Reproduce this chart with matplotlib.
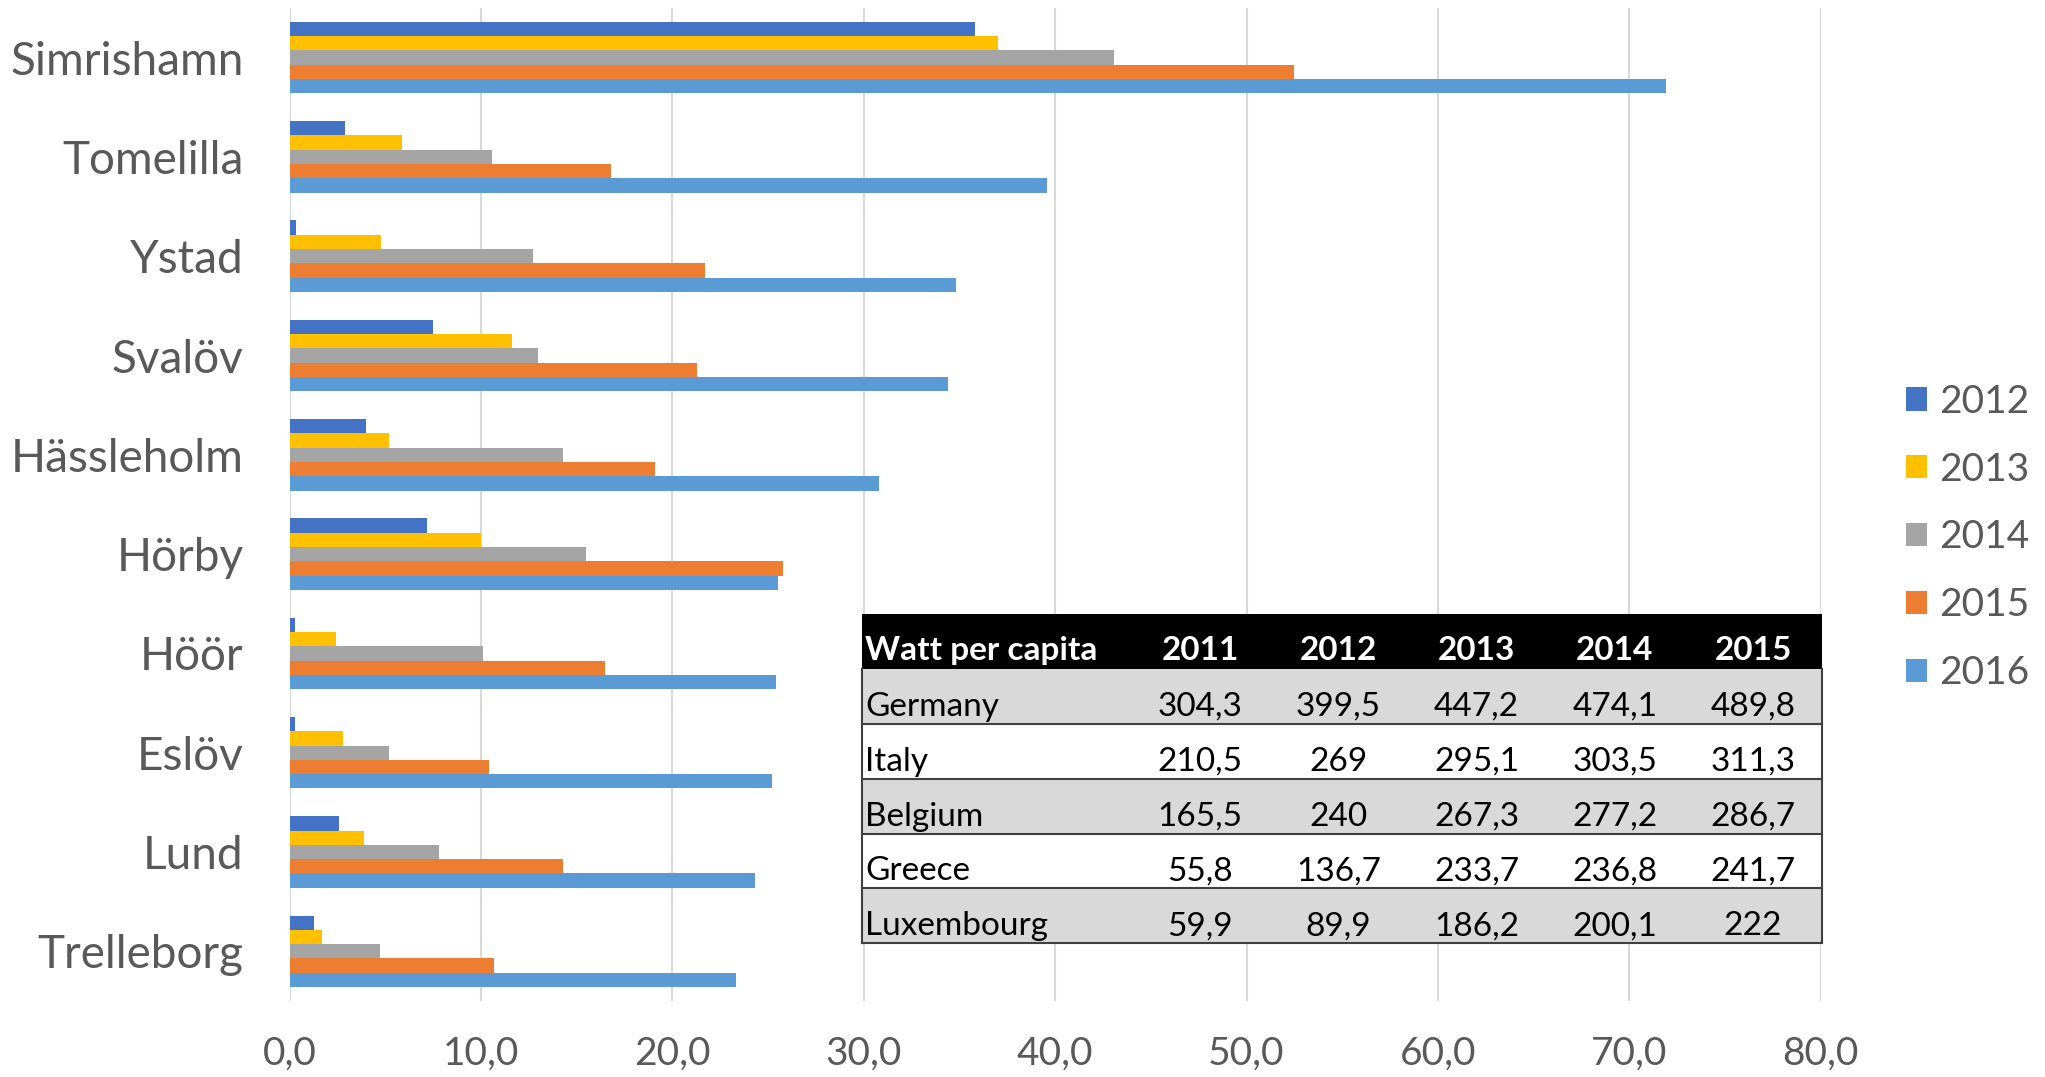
import matplotlib.pyplot as plt
import numpy as np
from matplotlib.patches import Rectangle
from matplotlib.ticker import FuncFormatter

plt.rcParams['font.family'] = ['Lato', 'DejaVu Sans']

towns = ["Simrishamn", "Tomelilla", "Ystad", "Svalöv", "Hässleholm",
         "Hörby", "Höör", "Eslöv", "Lund", "Trelleborg"]
years = ["2012", "2013", "2014", "2015", "2016"]
v2012 = [35.8, 2.9, 0.35, 7.5, 4.0, 7.2, 0.3, 0.3, 2.6, 1.3]
v2013 = [37.0, 5.9, 4.8, 11.6, 5.2, 10.0, 2.4, 2.8, 3.9, 1.7]
v2014 = [43.1, 10.6, 12.7, 13.0, 14.3, 15.5, 10.1, 5.2, 7.8, 4.7]
v2015 = [52.5, 16.8, 21.7, 21.3, 19.1, 25.8, 16.5, 10.4, 14.3, 10.7]
v2016 = [71.9, 39.6, 34.8, 34.4, 30.8, 25.5, 25.4, 25.2, 24.3, 23.3]
series = [v2012, v2013, v2014, v2015, v2016]
colors = ["#4472C4", "#FFC000", "#A5A5A5", "#ED7D31", "#5B9BD5"]

# inset table
tab_header = ["Watt per capita", "2011", "2012", "2013", "2014", "2015"]
countries = ["Germany", "Italy", "Belgium", "Greece", "Luxembourg"]
germany = [304.3, 399.5, 447.2, 474.1, 489.8]
italy = [210.5, 269, 295.1, 303.5, 311.3]
belgium = [165.5, 240, 267.3, 277.2, 286.7]
greece = [55.8, 136.7, 233.7, 236.8, 241.7]
luxembourg = [59.9, 89.9, 186.2, 200.1, 222]
tab_rows = [germany, italy, belgium, greece, luxembourg]

fig = plt.figure(figsize=(20.45, 10.77), dpi=100)
ax = fig.add_axes([0.1416, 0.0706, 0.7487, 0.922])

y = np.arange(len(towns))
h = 0.144
for j, (vals, c, yr) in enumerate(zip(series, colors, years)):
    ax.barh(y + (j - 2) * h, vals, height=h, color=c, label=yr, zorder=2)

ax.set_ylim(len(towns) - 0.5, -0.5)
ax.set_xlim(0, 80)
ax.set_xticks(np.arange(0, 81, 10))
ax.xaxis.set_major_formatter(FuncFormatter(lambda v, p: f"{v:.1f}".replace('.', ',')))
ax.set_yticks(y)
ax.set_yticklabels(towns)
ax.tick_params(axis='x', length=0, pad=25, labelsize=28, labelcolor="#595959")
ax.tick_params(axis='y', length=0, pad=33, labelsize=33, labelcolor="#595959")
ax.grid(axis='x', color="#D9D9D9", linewidth=1.5, zorder=0)
ax.set_axisbelow(True)
for s in ax.spines.values():
    s.set_visible(False)

leg = ax.legend(loc='center left', bbox_to_anchor=(0.932, 0.501),
                bbox_transform=fig.transFigure, frameon=False, fontsize=28,
                handlelength=0.55, handleheight=0.55, handletextpad=0.3,
                labelspacing=0.82, borderpad=0, borderaxespad=0)
for t in leg.get_texts():
    t.set_color("#595959")

# table drawn in axes coordinates
tx0, tw = 0.374, 0.627
ttop, rh = 0.3894, 0.0552
cw = np.array([0.28] + [0.144] * 5) * tw
cx = tx0 + np.concatenate([[0], np.cumsum(cw)[:-1]])
all_rows = [tab_header] + [[c] + [f"{v:g}".replace('.', ',') for v in row]
                           for c, row in zip(countries, tab_rows)]
kw = dict(transform=ax.transAxes, clip_on=False)
for i, row in enumerate(all_rows):
    yb = ttop - (i + 1) * rh
    if i == 0:
        fc = "black"
    else:
        fc = "#D9D9D9" if i % 2 == 1 else "white"
    ax.add_patch(Rectangle((tx0, yb), tw, rh, facecolor=fc, edgecolor='none',
                           zorder=5, **kw))
    ty = yb + rh * (0.34 if i == 0 else 0.31)
    for j, s in enumerate(row):
        if j == 0:
            xx, ha = cx[0] + 0.002, 'left'
        else:
            xx, ha = cx[j] + cw[j] / 2, 'center'
        ax.text(xx, ty, s, ha=ha, va='center', fontsize=24,
                color="white" if i == 0 else "black",
                fontweight='bold' if i == 0 else 'normal', zorder=7, **kw)
    if i > 0:
        ax.plot([tx0, tx0 + tw], [yb, yb], color="#404040", lw=1.5, zorder=6, **kw)
ybot = ttop - len(all_rows) * rh
for xx in (tx0, tx0 + tw):
    ax.plot([xx, xx], [ybot, ttop - rh], color="#404040", lw=1.5, zorder=6, **kw)

fig.savefig("out.png", dpi=100)
